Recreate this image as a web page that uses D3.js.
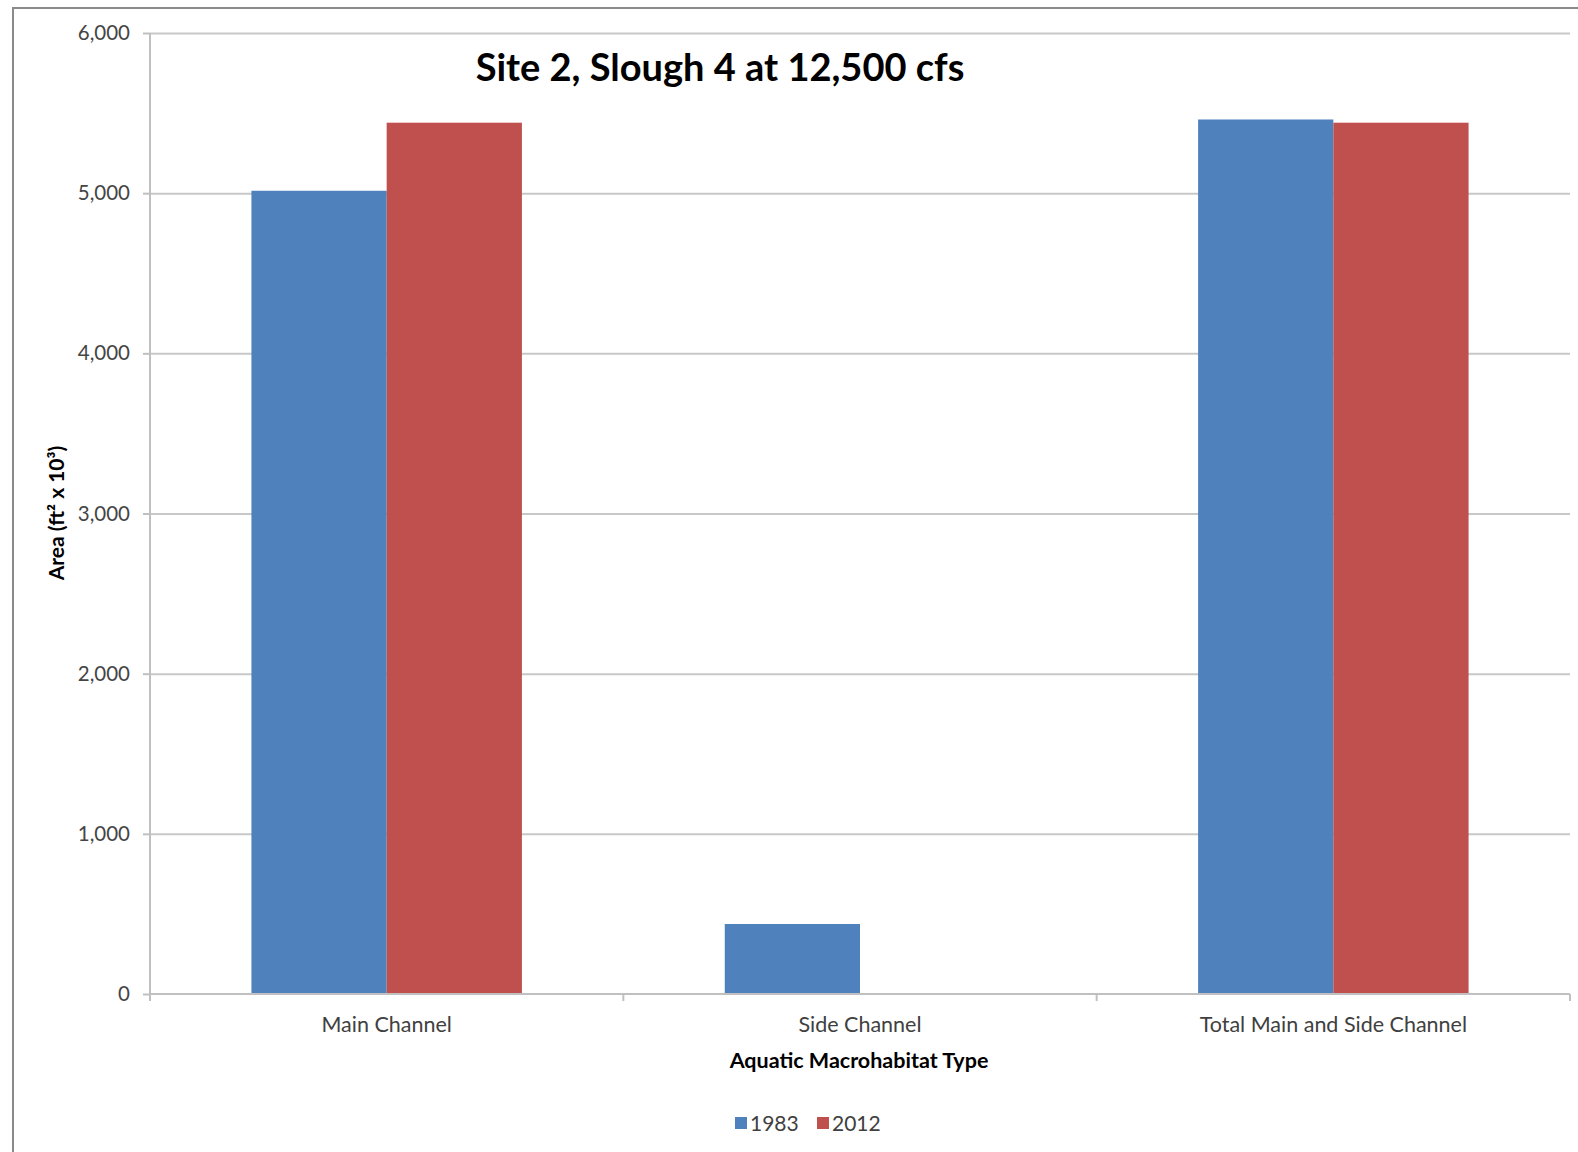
<!DOCTYPE html>
<html><head><meta charset="utf-8">
<script src="https://cdn.jsdelivr.net/npm/d3@7"></script>
<style>
html,body{margin:0;padding:0;background:#fff;}
svg{display:block;}
text{font-family:Lato,"Open Sans",sans-serif;}
</style></head>
<body>
<script>
const categories = ["Main Channel", "Side Channel", "Total Main and Side Channel"];
const seriesNames = ["1983", "2012"];
const values1983 = [5015, 437, 5460];
const values2012 = [5440, 0, 5440];
const yTicks = [0, 1000, 2000, 3000, 4000, 5000, 6000];
const colors = ["#4F81BD", "#C0504D"];
const titleText = "Site 2, Slough 4 at 12,500 cfs";
const yTitle = "Area (ft² x 10³)";
const xTitle = "Aquatic Macrohabitat Type";

const W = 1578, H = 1152;
const svg = d3.select("body").append("svg").attr("width", W).attr("height", H);

// outer chart border
svg.append("path").attr("d", `M13,${H} L13,8 L${W},8`).attr("fill","none").attr("stroke","#8a8a8a").attr("stroke-width",2);

const x = d3.scaleBand().domain(categories).range([150, 1570]).paddingInner(0).paddingOuter(0);
const xs = d3.scaleBand().domain(seriesNames).range([0, x.bandwidth()]).paddingInner(0).paddingOuter(0.75);
const y = d3.scaleLinear().domain([0, 6000]).range([994, 33]);

// gridlines
svg.append("g").selectAll("line").data(yTicks.filter(d=>d>0)).join("line")
  .attr("x1",150).attr("x2",1570).attr("y1",d=>y(d)+0.5).attr("y2",d=>y(d)+0.5)
  .attr("stroke","#c8c8c8").attr("stroke-width",2);

// y axis
const yAxis = svg.append("g").attr("transform","translate(150,0)")
  .call(d3.axisLeft(y).tickValues(yTicks).tickFormat(d3.format(",")).tickSize(7).tickPadding(13));
yAxis.select(".domain").attr("stroke","#c0c0c0").attr("stroke-width",2).attr("d","M0,33V1001");
yAxis.selectAll(".tick line").attr("stroke","#c0c0c0").attr("stroke-width",2);
yAxis.selectAll(".tick text").attr("fill","#454545").style("font-size","20.5px").style("font-family","Lato");

// bars
const data = categories.map((c,i)=>({cat:c, vals:[values1983[i], values2012[i]]}));
const groups = svg.append("g").selectAll("g").data(data).join("g")
  .attr("transform", d=>`translate(${x(d.cat)},0)`);
groups.selectAll("rect").data(d=>d.vals.map((v,j)=>({s:seriesNames[j], v, j}))).join("rect")
  .attr("x", d=>xs(d.s)).attr("width", xs.bandwidth())
  .attr("y", d=>y(d.v)).attr("height", d=>y(0)-y(d.v))
  .attr("fill", d=>colors[d.j]);

// x axis
const xAxis = svg.append("g").attr("transform",`translate(0,${y(0)})`)
  .call(d3.axisBottom(x).tickSize(0).tickPadding(23));
xAxis.select(".domain").attr("stroke","#c0c0c0").attr("stroke-width",2).attr("d","M150,0H1570");
xAxis.selectAll(".tick text").attr("fill","#404040").style("font-size","21.5px").style("font-family","Lato");
// category boundary ticks
const bounds = categories.map(c=>x(c)).concat([x.range()[1]]);
svg.append("g").selectAll("line").data(bounds).join("line")
  .attr("x1",d=>d).attr("x2",d=>d).attr("y1",y(0)).attr("y2",y(0)+7)
  .attr("stroke","#c0c0c0").attr("stroke-width",2);

// title
svg.append("text").attr("x",720).attr("y",81).attr("text-anchor","middle")
  .style("font-size","38px").style("font-weight","bold").attr("fill","#000").text(titleText);

// y title
svg.append("text").attr("transform","translate(64,513) rotate(-90)").attr("text-anchor","middle")
  .style("font-size","21px").style("font-weight","bold").attr("fill","#000").text(yTitle);

// x title
svg.append("text").attr("x",859).attr("y",1068).attr("text-anchor","middle")
  .style("font-size","21.5px").style("font-weight","bold").attr("fill","#000").text(xTitle);

// legend
const leg = svg.append("g").selectAll("g").data(seriesNames).join("g")
  .attr("transform",(d,i)=>`translate(${735 + i*82},0)`);
leg.append("rect").attr("x",0).attr("y",1117).attr("width",12).attr("height",12).attr("fill",(d,i)=>colors[i]);
leg.append("text").attr("x",15).attr("y",1131).attr("fill","#404040").style("font-size","21px").text(d=>d);
</script>
</body></html>
